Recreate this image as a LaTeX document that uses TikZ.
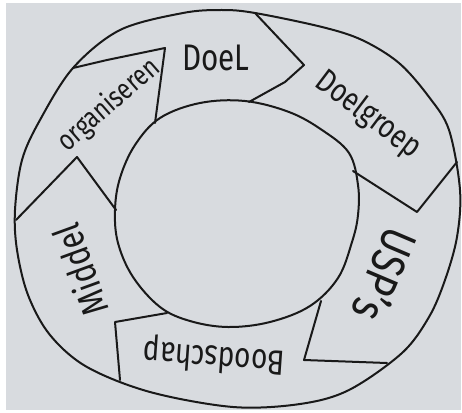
\documentclass[tikz,border=0pt]{standalone}
\usepackage{fontspec}
\setmainfont{Fira Sans}
\begin{document}
\begin{tikzpicture}[x=1pt, y=-1pt, line cap=round, line join=round,
  pen/.style={line width=2pt, black!90},
  hand/.style={font=\fontsize{#1}{#1}\selectfont, xscale=0.8, inner sep=0pt, black!90}]
  \definecolor{paper}{RGB}{216,219,223}
  \useasboundingbox (0,0) rectangle (462,412);
  \fill[white] (0,0) rectangle (462,412);
  \fill[paper] (6,3) rectangle (461,410);
  % outer ring
  \draw[pen] plot[smooth cycle, tension=0.55] coordinates {
    (15,210) (22,160) (40,120) (73,68) (120,30) (183,13) (222,10)
    (255,13) (322,27) (362,40) (399,63) (429,97) (449,130) (460,190)
    (457,237) (445,280) (429,317) (402,353) (349,390) (300,404)
    (233,407) (150,392) (87,367) (50,335) (28,295) (17,250)};
  % inner circle
  \draw[pen] plot[smooth cycle, tension=0.6] coordinates {
    (115,210) (120,178) (135,145) (160,118) (200,103) (245,101)
    (289,112) (322,130) (349,153) (358,185) (358,215) (352,242)
    (338,278) (310,306) (270,322) (228,327) (190,321) (160,307)
    (133,277) (118,243)};
  % chevrons between the steps
  \coordinate (c1o) at (255,13);  \coordinate (c1t) at (304,65);  \coordinate (c1i) at (249,102);
  \coordinate (c2o) at (457,162); \coordinate (c2t) at (417,212); \coordinate (c2i) at (353,171);
  \coordinate (c3i) at (321,301); \coordinate (c3t) at (304,360); \coordinate (c3o) at (387,363);
  \coordinate (c4i) at (167,313); \coordinate (c4t) at (115,322); \coordinate (c4o) at (120,380);
  \coordinate (c5o) at (16,220);  \coordinate (c5t) at (77,157);  \coordinate (c5i) at (116,210);
  \coordinate (c6o) at (73,68);   \coordinate (c6t) at (165,48);  \coordinate (c6i) at (155,123);
  \draw[pen] (c1o) -- (c1t) -- (285,82) -- (c1i);
  \draw[pen] (c2o) -- (c2t) -- (c2i);
  \draw[pen] (c3i) -- (c3t) -- (c3o);
  \draw[pen] (c4i) -- (c4t) -- (c4o);
  \draw[pen] (c5o) -- (c5t) -- (c5i);
  \draw[pen] (c6o) -- (107,60) -- (c6t) -- (c6i);
  % step labels
  \node[hand=37] (doel) at (216,58) {DoeL};
  \node[rotate=-37, hand=33] (doelgroep) at (368,115) {Doelgroep};
  \node[rotate=-113, hand=48] (usps) at (385,275) {USP's};
  \node[rotate=176, hand=35] (boodschap) at (214,356) {Boodschap};
  \node[rotate=110, hand=38] (middel) at (80,270) {Middel};
  \node[rotate=41, hand=29] (organiseren) at (109,105) {organiseren};
\end{tikzpicture}
\end{document}
